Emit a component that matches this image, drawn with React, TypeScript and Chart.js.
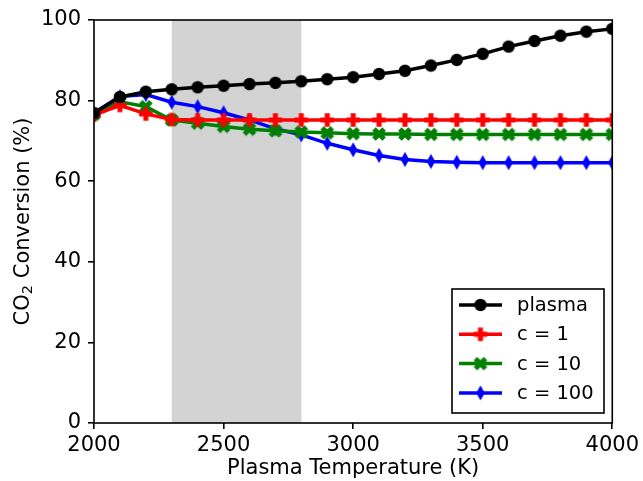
import React, { useEffect, useRef } from 'react';
import { Chart, registerables } from 'chart.js';

Chart.register(...registerables);

const temperatures = [2000, 2100, 2200, 2300, 2400, 2500, 2600, 2700, 2800, 2900, 3000, 3100, 3200, 3300, 3400, 3500, 3600, 3700, 3800, 3900, 4000];
const plasma = [76.9, 80.9, 82.2, 82.8, 83.3, 83.7, 84.1, 84.4, 84.8, 85.3, 85.8, 86.6, 87.4, 88.7, 90.1, 91.6, 93.4, 94.8, 96.1, 97.1, 97.8];
const c1 = [76.4, 78.8, 76.7, 75.3, 75.2, 75.2, 75.2, 75.2, 75.2, 75.2, 75.2, 75.2, 75.2, 75.2, 75.2, 75.2, 75.2, 75.2, 75.2, 75.2, 75.2];
const c10 = [76.6, 79.7, 78.5, 75.2, 74.4, 73.6, 72.9, 72.5, 72.2, 72.0, 71.8, 71.7, 71.7, 71.6, 71.6, 71.6, 71.6, 71.6, 71.6, 71.6, 71.6];
const c100 = [77.0, 81.0, 81.5, 79.6, 78.5, 77.0, 75.2, 73.0, 71.5, 69.4, 67.8, 66.4, 65.4, 64.9, 64.7, 64.6, 64.6, 64.6, 64.6, 64.6, 64.6];

const seriesLabels = ['plasma', 'c = 1', 'c = 10', 'c = 100'];
const seriesColors = ['#000000', '#ff0000', '#008000', '#0000ff'];
const seriesMarkers = ['circle', 'plus', 'x', 'diamond'];
const shadedRange = [2300, 2800];
const xTicks = [2000, 2500, 3000, 3500, 4000];
const yTicks = [0, 20, 40, 60, 80, 100];
const xTitle = 'Plasma Temperature (K)';
const yTitleParts = ['CO', '2', ' Conversion (%)'];

const FONT = "'DejaVu Sans', sans-serif";
const FS = 21;
const LEGEND_FS = 19.5;

function makeMarker(shape: string, color: string) {
  const size = 20;
  const c = document.createElement('canvas');
  c.width = size;
  c.height = size;
  const g = c.getContext('2d')!;
  const m = size / 2;
  g.fillStyle = color;
  g.beginPath();
  if (shape === 'circle') {
    g.arc(m, m, 6.2, 0, Math.PI * 2);
  } else if (shape === 'plus' || shape === 'x') {
    const a = shape === 'x' ? 7.2 : 6.8;
    const t = 2.5;
    const pts = [[-t, -a], [t, -a], [t, -t], [a, -t], [a, t], [t, t], [t, a], [-t, a], [-t, t], [-a, t], [-a, -t], [-t, -t]];
    const ang = shape === 'x' ? Math.PI / 4 : 0;
    const co = Math.cos(ang), si = Math.sin(ang);
    pts.forEach(([x, y], i) => {
      const rx = m + x * co - y * si;
      const ry = m + x * si + y * co;
      if (i === 0) g.moveTo(rx, ry); else g.lineTo(rx, ry);
    });
  } else {
    g.moveTo(m, m - 7.5);
    g.lineTo(m + 4.3, m);
    g.lineTo(m, m + 7.5);
    g.lineTo(m - 4.3, m);
  }
  g.closePath();
  g.fill();
  return c;
}

export default function App() {
  const ref = useRef<HTMLCanvasElement | null>(null);

  useEffect(() => {
    if (!ref.current) return;
    const markers = seriesMarkers.map((s, i) => makeMarker(s, seriesColors[i]));
    const seriesData = [plasma, c1, c10, c100];

    const customPlugin = {
      id: 'custom',
      beforeDatasetsDraw(chart: any) {
        const { ctx, chartArea, scales } = chart;
        const x0 = scales.x.getPixelForValue(shadedRange[0]);
        const x1 = scales.x.getPixelForValue(shadedRange[1]);
        ctx.save();
        ctx.fillStyle = '#d3d3d3';
        ctx.fillRect(x0, chartArea.top, x1 - x0, chartArea.bottom - chartArea.top);
        ctx.restore();
      },
      afterDatasetsDraw(chart: any) {
        const { ctx, chartArea } = chart;
        ctx.save();
        ctx.strokeStyle = '#000';
        ctx.lineWidth = 1.6;
        ctx.strokeRect(chartArea.left, chartArea.top, chartArea.right - chartArea.left, chartArea.bottom - chartArea.top);

        // legend
        const lx = 452, ly = 289, lw = 152, lh = 124;
        ctx.fillStyle = '#fff';
        ctx.fillRect(lx, ly, lw, lh);
        ctx.lineWidth = 1.6;
        ctx.strokeStyle = '#000';
        ctx.strokeRect(lx, ly, lw, lh);
        ctx.font = `${LEGEND_FS}px ${FONT}`;
        ctx.textBaseline = 'middle';
        ctx.textAlign = 'left';
        seriesLabels.forEach((lab, i) => {
          const yy = 305 + i * 29.3;
          ctx.strokeStyle = seriesColors[i];
          ctx.lineWidth = 3.5;
          ctx.beginPath();
          ctx.moveTo(459, yy);
          ctx.lineTo(502, yy);
          ctx.stroke();
          const mk = markers[i];
          ctx.drawImage(mk, 480.5 - mk.width / 2, yy - mk.height / 2);
          ctx.fillStyle = '#000';
          ctx.fillText(lab, 517, yy + 1);
        });

        // x axis title
        ctx.fillStyle = '#000';
        ctx.font = `${FS}px ${FONT}`;
        ctx.textAlign = 'center';
        ctx.textBaseline = 'middle';
        ctx.fillText(xTitle, (chartArea.left + chartArea.right) / 2, 469);

        // y axis title with subscript
        const bigFont = `${FS}px ${FONT}`;
        const smallFont = `${FS * 0.7}px ${FONT}`;
        ctx.font = bigFont;
        const w0 = ctx.measureText(yTitleParts[0]).width;
        const w2 = ctx.measureText(yTitleParts[2]).width;
        ctx.font = smallFont;
        const w1 = ctx.measureText(yTitleParts[1]).width;
        const total = w0 + w1 + w2;
        ctx.translate(24, (chartArea.top + chartArea.bottom) / 2);
        ctx.rotate(-Math.PI / 2);
        ctx.textAlign = 'left';
        ctx.textBaseline = 'middle';
        let x = -total / 2;
        ctx.font = bigFont;
        ctx.fillText(yTitleParts[0], x, 0);
        x += w0;
        ctx.font = smallFont;
        ctx.fillText(yTitleParts[1], x, 4.5);
        x += w1;
        ctx.font = bigFont;
        ctx.fillText(yTitleParts[2], x, 0);
        ctx.restore();
      },
    };

    const chart = new Chart(ref.current, {
      type: 'line',
      data: {
        datasets: seriesLabels.map((lab, i) => ({
          label: lab,
          data: temperatures.map((t, j) => ({ x: t, y: seriesData[i][j] })),
          borderColor: seriesColors[i],
          backgroundColor: seriesColors[i],
          borderWidth: 3.5,
          pointStyle: markers[i] as any,
          pointRadius: 6,
          tension: 0,
          clip: 0,
        })),
      },
      options: {
        animation: false,
        responsive: true,
        maintainAspectRatio: false,
        events: [],
        layout: { padding: { left: 0, right: 30, top: 20, bottom: 0 } },
        plugins: { legend: { display: false }, tooltip: { enabled: false }, title: { display: false } },
        scales: {
          x: {
            type: 'linear',
            min: 2000,
            max: 4000,
            afterBuildTicks: (s: any) => { s.ticks = xTicks.map((v) => ({ value: v })); },
            afterFit: (s: any) => { s.height = 58; },
            ticks: { font: { family: FONT, size: FS }, color: '#000', padding: 4, maxRotation: 0, callback: (v: any) => String(v) },
            grid: { drawOnChartArea: false, drawTicks: true, tickLength: 6, color: '#000', lineWidth: 1.6 },
            border: { display: false },
          },
          y: {
            type: 'linear',
            min: 0,
            max: 100,
            afterBuildTicks: (s: any) => { s.ticks = yTicks.map((v) => ({ value: v })); },
            afterFit: (s: any) => { s.width = 94; },
            ticks: { font: { family: FONT, size: FS }, color: '#000', padding: 7, callback: (v: any) => String(v) },
            grid: { drawOnChartArea: false, drawTicks: true, tickLength: 6, color: '#000', lineWidth: 1.6 },
            border: { display: false },
          },
        },
      },
      plugins: [customPlugin],
    } as any);
    return () => chart.destroy();
  }, []);

  return (
    <div style={{ position: 'absolute', left: 0, top: 0, width: 643, height: 481, background: '#fff' }}>
      <canvas ref={ref} />
    </div>
  );
}
